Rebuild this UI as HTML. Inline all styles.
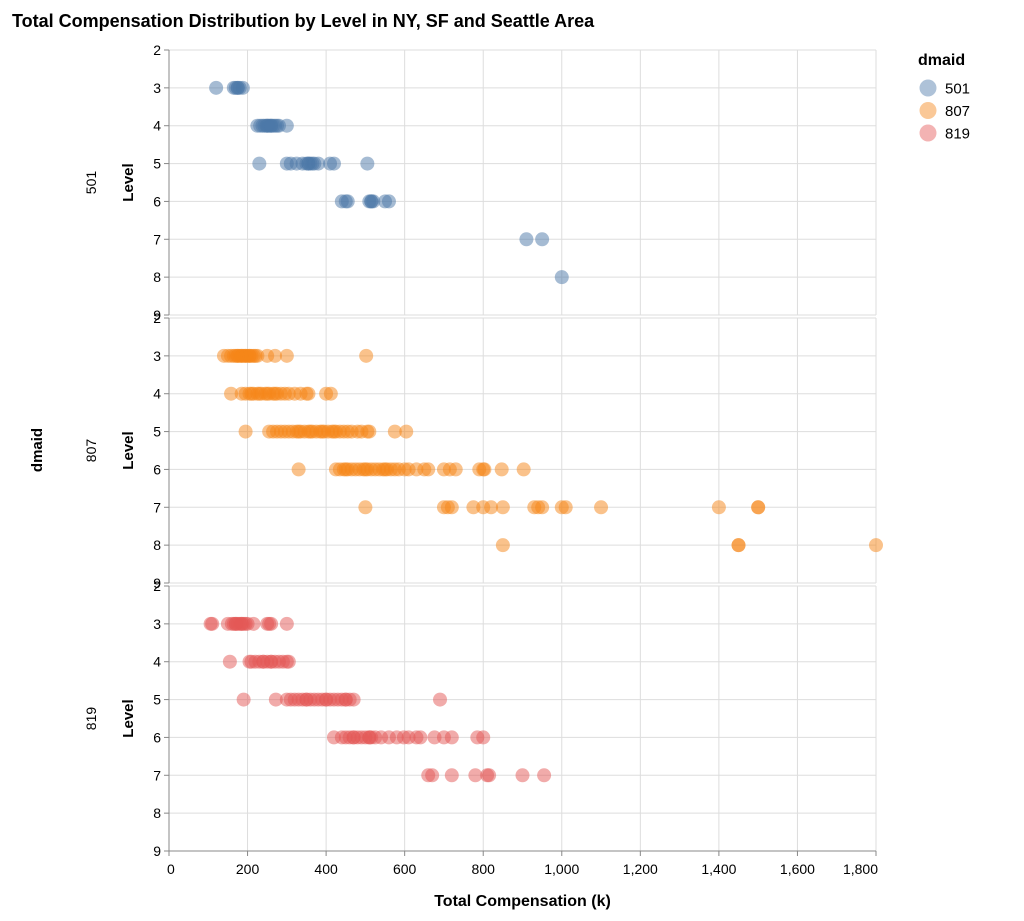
<!DOCTYPE html>
<html><head><meta charset="utf-8">
<style>
body{margin:0;background:#fff;font-family:"Liberation Sans",Arial,sans-serif;}
svg text{font-family:"Liberation Sans",Arial,sans-serif;}
</style></head>
<body>
<svg id="chart" width="1024" height="916" xmlns="http://www.w3.org/2000/svg">
<text x="12" y="27" font-size="18" font-weight="bold" fill="#000">Total Compensation Distribution by Level in NY, SF and Seattle Area</text>
<g id="panels"></g>
<g id="legend">
<text x="918" y="65" font-size="16" font-weight="bold">dmaid</text>
</g>
</svg>
<script>
const facets = ["501","807","819"];
const colors = ["#4c78a8","#f58518","#e45756"];
const levelTicks = [2,3,4,5,6,7,8,9];
const xTicks = [0,200,400,600,800,1000,1200,1400,1600,1800];
const xTickLabels = ["0","200","400","600","800","1,000","1,200","1,400","1,600","1,800"];
const data501 = [[3,120],[3,165],[3,170],[3,175],[3,180],[3,175],[3,188],
[4,225],[4,232],[4,238],[4,243],[4,248],[4,252],[4,256],[4,260],[4,265],[4,270],[4,275],[4,250],[4,260],[4,280],[4,300],
[5,230],[5,300],[5,310],[5,325],[5,340],[5,350],[5,355],[5,360],[5,365],[5,355],[5,370],[5,380],[5,410],[5,420],[5,505],
[6,440],[6,450],[6,455],[6,510],[6,515],[6,520],[6,515],[6,550],[6,560],
[7,910],[7,950],[8,1000]];
const data807 = [[3,140],[3,150],[3,158],[3,165],[3,170],[3,175],[3,180],[3,185],[3,190],[3,195],[3,200],[3,205],[3,210],[3,215],[3,220],[3,225],[3,175],[3,185],[3,195],[3,205],[3,250],[3,270],[3,300],[3,502],
[4,158],[4,185],[4,195],[4,205],[4,215],[4,225],[4,235],[4,245],[4,255],[4,265],[4,275],[4,285],[4,295],[4,305],[4,320],[4,335],[4,350],[4,355],[4,210],[4,230],[4,250],[4,270],[4,400],[4,412],
[5,195],[5,255],[5,265],[5,275],[5,285],[5,295],[5,305],[5,315],[5,325],[5,335],[5,345],[5,355],[5,365],[5,375],[5,385],[5,395],[5,405],[5,415],[5,425],[5,435],[5,445],[5,455],[5,465],[5,480],[5,490],[5,505],[5,510],[5,330],[5,360],[5,390],[5,420],[5,575],[5,604],
[6,330],[6,425],[6,435],[6,445],[6,455],[6,465],[6,475],[6,485],[6,495],[6,505],[6,515],[6,525],[6,535],[6,545],[6,555],[6,565],[6,575],[6,585],[6,600],[6,610],[6,630],[6,650],[6,660],[6,450],[6,500],[6,550],[6,700],[6,715],[6,730],[6,790],[6,800],[6,803],[6,847],[6,903],
[7,500],[7,700],[7,710],[7,720],[7,775],[7,800],[7,820],[7,850],[7,930],[7,940],[7,950],[7,1000],[7,1010],[7,1100],[7,1400],[7,1500],[7,1500],
[8,850],[8,1450],[8,1450],[8,1800]];
const data819 = [[3,106],[3,110],[3,150],[3,160],[3,165],[3,170],[3,175],[3,180],[3,185],[3,190],[3,195],[3,200],[3,170],[3,185],[3,215],[3,250],[3,255],[3,260],[3,300],
[4,155],[4,205],[4,210],[4,220],[4,230],[4,240],[4,250],[4,260],[4,270],[4,280],[4,290],[4,300],[4,240],[4,260],[4,305],
[5,190],[5,272],[5,300],[5,310],[5,320],[5,330],[5,340],[5,350],[5,360],[5,370],[5,380],[5,390],[5,400],[5,410],[5,420],[5,430],[5,440],[5,450],[5,460],[5,470],[5,350],[5,400],[5,450],[5,690],
[6,420],[6,440],[6,450],[6,460],[6,470],[6,480],[6,490],[6,500],[6,510],[6,515],[6,525],[6,540],[6,560],[6,580],[6,598],[6,610],[6,630],[6,640],[6,470],[6,510],[6,676],[6,700],[6,720],[6,785],[6,800],
[7,660],[7,670],[7,720],[7,780],[7,810],[7,815],[7,900],[7,955]];
const allData = [data501,data807,data819];

const NS="http://www.w3.org/2000/svg";
const X0=169, X1=876, panelTops=[50,318,586], PH=265;
function xs(v){return X0+(v/1800)*(X1-X0);}
function ys(p,l){return panelTops[p]+(l-2)/7*PH;}
function mk(tag,attrs,parent){const e=document.createElementNS(NS,tag);for(const k in attrs)e.setAttribute(k,attrs[k]);parent.appendChild(e);return e;}
const root=document.getElementById('panels');

const rowTitle=mk('text',{x:42,y:450,'font-size':15,'font-weight':'bold','text-anchor':'middle',transform:'rotate(-90 42 450)'},root);
rowTitle.textContent='dmaid';



facets.forEach((f,p)=>{
  const g=mk('g',{},root);
  
  
  const top=panelTops[p], bot=top+PH, mid=(top+bot)/2;
  xTicks.forEach(t=>{const l=mk('line',{x1:xs(t),x2:xs(t),y1:top,y2:bot,stroke:'#ddd','stroke-width':1},g);
    });
  levelTicks.forEach(t=>{const l=mk('line',{x1:X0,x2:X1,y1:ys(p,t),y2:ys(p,t),stroke:'#ddd','stroke-width':1},g);
    });
  const ax=mk('line',{x1:X0,x2:X0,y1:top,y2:bot,stroke:'#888','stroke-width':1},g);
  
  levelTicks.forEach(t=>{
    mk('line',{x1:X0-5,x2:X0,y1:ys(p,t),y2:ys(p,t),stroke:'#888'},g);
    const tx=mk('text',{x:X0-8,y:ys(p,t)+5,'font-size':14,'text-anchor':'end',fill:'#000'},g);
    tx.textContent=t;
    
  });
  const yt=mk('text',{x:133,y:mid,'font-size':15,'font-weight':'bold','text-anchor':'middle',transform:`rotate(-90 133 ${mid})`},g);
  yt.textContent='Level';
  
  const rl=mk('text',{x:96,y:mid,'font-size':14,'text-anchor':'middle',transform:`rotate(-90 96 ${mid})`},g);
  rl.textContent=f;
  
  allData[p].forEach(d=>{
    const c=mk('circle',{cx:xs(d[1]),cy:ys(p,d[0]),r:7,fill:colors[p],'fill-opacity':0.5},g);
    
    
  });
});
const xa=document.createElementNS(NS,'g');root.appendChild(xa);


const B=panelTops[2]+PH;
mk('line',{x1:X0,x2:X1,y1:B,y2:B,stroke:'#888'},xa);
xTicks.forEach((t,i)=>{
  mk('line',{x1:xs(t),x2:xs(t),y1:B,y2:B+5,stroke:'#888'},xa);
  const tx=mk('text',{x:i==0?xs(t)-2:xs(t),y:B+23,'font-size':14,'text-anchor':i==0?'start':(i==xTicks.length-1?'end':'middle')},xa);
  if(i==xTicks.length-1) tx.setAttribute('x',xs(t)+2);
  tx.textContent=xTickLabels[i];
  
});
const xt=mk('text',{x:(X0+X1)/2,y:906,'font-size':16,'font-weight':'bold','text-anchor':'middle'},xa);
xt.textContent='Total Compensation (k)';

const lg=document.getElementById('legend');
facets.forEach((f,i)=>{
  const y=88+i*22.5;
  const c=mk('circle',{cx:928,cy:y,r:8.5,fill:colors[i],'fill-opacity':0.45},lg);
  
  const t=mk('text',{x:945,y:y+5.5,'font-size':15},lg);
  t.textContent=f;
  
});
</script>
</body></html>
